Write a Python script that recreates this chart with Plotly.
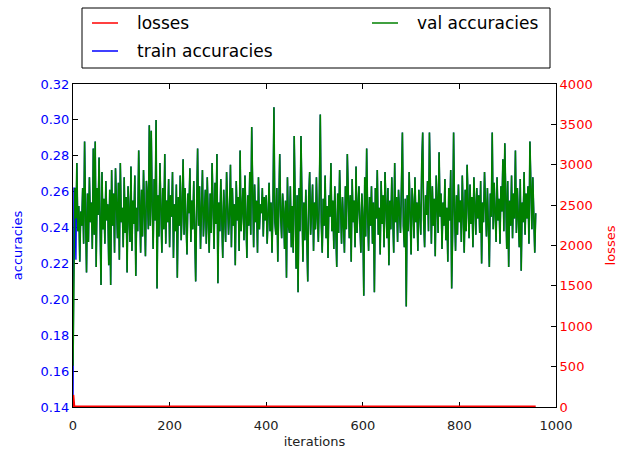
import plotly.graph_objects as go

# ---------------- data ----------------
iterations = list(range(0, 960, 2))

val_accuracies = [
    0.163, 0.212, 0.262, 0.245, 0.276, 0.238, 0.252, 0.221, 0.249, 0.241, 0.262, 0.231, 0.288, 0.246, 0.215, 0.259, 0.232, 0.268, 0.243, 0.254,
    0.228, 0.284, 0.236, 0.288, 0.218, 0.262, 0.247, 0.279, 0.226, 0.208, 0.271, 0.239, 0.256, 0.231, 0.266, 0.244, 0.253, 0.219, 0.261, 0.208,
    0.272, 0.241, 0.259, 0.226, 0.273, 0.248, 0.234, 0.265, 0.222, 0.276, 0.243, 0.251, 0.229, 0.268, 0.237, 0.257, 0.215, 0.263, 0.246, 0.232,
    0.274, 0.227, 0.255, 0.242, 0.269, 0.213, 0.251, 0.238, 0.283, 0.247, 0.226, 0.261, 0.235, 0.272, 0.249, 0.224, 0.266, 0.258, 0.239, 0.297,
    0.241, 0.294, 0.252, 0.228, 0.267, 0.244, 0.300, 0.206, 0.258, 0.235, 0.276, 0.248, 0.226, 0.262, 0.239, 0.281, 0.231, 0.255, 0.243, 0.267,
    0.229, 0.258, 0.246, 0.271, 0.223, 0.253, 0.238, 0.264, 0.212, 0.257, 0.241, 0.269, 0.233, 0.251, 0.278, 0.236, 0.262, 0.244, 0.225, 0.259,
    0.248, 0.273, 0.232, 0.255, 0.239, 0.266, 0.226, 0.210, 0.252, 0.284, 0.241, 0.263, 0.228, 0.256, 0.272, 0.235, 0.249, 0.261, 0.231, 0.268,
    0.244, 0.226, 0.259, 0.237, 0.276, 0.251, 0.228, 0.265, 0.242, 0.281, 0.209, 0.254, 0.238, 0.267, 0.246, 0.223, 0.261, 0.249, 0.232, 0.271,
    0.255, 0.236, 0.248, 0.275, 0.229, 0.262, 0.241, 0.253, 0.219, 0.266, 0.244, 0.257, 0.227, 0.283, 0.238, 0.251, 0.262, 0.233, 0.269, 0.246,
    0.223, 0.258, 0.241, 0.271, 0.236, 0.296, 0.252, 0.229, 0.264, 0.243, 0.255, 0.226, 0.268, 0.239, 0.253, 0.248, 0.262, 0.235, 0.257, 0.244,
    0.258, 0.231, 0.247, 0.265, 0.238, 0.254, 0.226, 0.251, 0.307, 0.243, 0.236, 0.262, 0.221, 0.257, 0.281, 0.246, 0.234, 0.259, 0.249, 0.228,
    0.255, 0.212, 0.268, 0.241, 0.237, 0.263, 0.229, 0.252, 0.226, 0.291, 0.244, 0.217, 0.258, 0.204, 0.262, 0.238, 0.291, 0.246, 0.221, 0.254,
    0.233, 0.261, 0.242, 0.210, 0.257, 0.271, 0.236, 0.249, 0.264, 0.227, 0.254, 0.239, 0.268, 0.245, 0.232, 0.259, 0.303, 0.243, 0.226, 0.256,
    0.241, 0.269, 0.234, 0.252, 0.223, 0.258, 0.246, 0.276, 0.238, 0.255, 0.228, 0.263, 0.244, 0.218, 0.259, 0.237, 0.272, 0.248, 0.231, 0.257,
    0.245, 0.226, 0.263, 0.239, 0.281, 0.252, 0.234, 0.258, 0.221, 0.267, 0.243, 0.255, 0.229, 0.274, 0.237, 0.251, 0.263, 0.242, 0.226, 0.259,
    0.246, 0.202, 0.268, 0.235, 0.284, 0.248, 0.227, 0.257, 0.241, 0.263, 0.231, 0.254, 0.204, 0.262, 0.245, 0.272, 0.236, 0.251, 0.225, 0.266,
    0.242, 0.258, 0.229, 0.271, 0.246, 0.234, 0.262, 0.219, 0.255, 0.239, 0.268, 0.247, 0.226, 0.276, 0.243, 0.257, 0.232, 0.261, 0.248, 0.237,
    0.263, 0.293, 0.241, 0.229, 0.256, 0.196, 0.258, 0.238, 0.271, 0.246, 0.225, 0.262, 0.252, 0.234, 0.268, 0.243, 0.254, 0.227, 0.261, 0.248,
    0.236, 0.275, 0.293, 0.244, 0.229, 0.258, 0.247, 0.266, 0.238, 0.293, 0.252, 0.231, 0.263, 0.241, 0.256, 0.224, 0.269, 0.245, 0.237, 0.282,
    0.246, 0.259, 0.228, 0.254, 0.241, 0.267, 0.233, 0.251, 0.221, 0.262, 0.244, 0.272, 0.206, 0.238, 0.293, 0.249, 0.227, 0.258, 0.236, 0.264,
    0.243, 0.255, 0.232, 0.269, 0.247, 0.226, 0.261, 0.238, 0.275, 0.251, 0.234, 0.264, 0.242, 0.257, 0.229, 0.268, 0.249, 0.236, 0.262, 0.245,
    0.258, 0.237, 0.266, 0.220, 0.254, 0.243, 0.271, 0.248, 0.235, 0.262, 0.241, 0.218, 0.259, 0.246, 0.293, 0.239, 0.265, 0.251, 0.232, 0.268,
    0.244, 0.256, 0.231, 0.263, 0.249, 0.278, 0.238, 0.287, 0.247, 0.228, 0.266, 0.218, 0.255, 0.241, 0.269, 0.234, 0.259, 0.245, 0.283, 0.237,
    0.262, 0.248, 0.229, 0.267, 0.216, 0.254, 0.243, 0.271, 0.236, 0.259, 0.245, 0.263, 0.231, 0.288, 0.252, 0.239, 0.268, 0.247, 0.226, 0.248,
]

# train accuracies lie underneath the val curve; only the first points differ visibly
train_start = [0.140, 0.262, 0.262, 0.222]
train_accuracies = train_start + val_accuracies[len(train_start):]

loss_iterations = [0, 2, 4, 6, 8, 10, 20, 40, 80, 160, 320, 480, 640, 800, 958]
losses = [150, 12, 4.1, 2.9, 2.6, 2.45, 2.35, 2.31, 2.30, 2.30, 2.30, 2.30, 2.30, 2.30, 2.30]

x_ticks = [0, 200, 400, 600, 800, 1000]
acc_ticks = [0.14, 0.16, 0.18, 0.20, 0.22, 0.24, 0.26, 0.28, 0.30, 0.32]
loss_ticks = [0, 500, 1000, 1500, 2000, 2500, 3000, 3500, 4000]

legend_labels = ["losses", "train accuracies", "val accuracies"]
legend_colors = ["red", "blue", "green"]

# ---------------- figure ----------------
FONT = "DejaVu Sans"
W, H = 618, 449
ML, MR, MT, MB = 73, 62, 84, 42
PW, PH = W - ML - MR, H - MT - MB


def px2paper_x(px):
    return (px - ML) / PW


def px2paper_y(py):
    return (H - MB - py) / PH


fig = go.Figure()
fig.add_trace(go.Scatter(x=iterations, y=train_accuracies, mode="lines",
                         line=dict(color="blue", width=1.4), name="train accuracies",
                         showlegend=False))
fig.add_trace(go.Scatter(x=iterations, y=val_accuracies, mode="lines",
                         line=dict(color="green", width=1.6), name="val accuracies",
                         showlegend=False))
fig.add_trace(go.Scatter(x=loss_iterations, y=losses, mode="lines", yaxis="y2",
                         line=dict(color="red", width=2.6), name="losses",
                         showlegend=False))

axis_common = dict(showgrid=False, zeroline=False, showline=True, linecolor="black",
                   linewidth=1, ticks="inside", ticklen=5, tickcolor="black",
                   layer="below traces", automargin=False)

fig.update_layout(
    width=W, height=H,
    margin=dict(l=ML, r=MR, t=MT, b=MB, pad=0, autoexpand=False),
    paper_bgcolor="white", plot_bgcolor="white",
    font=dict(family=FONT, size=13, color="#222222"),
    xaxis=dict(range=[0, 1000], tickvals=x_ticks, mirror="ticks",
               tickfont=dict(size=13, color="#222222"), ticklabelstandoff=6,
               title=dict(text="iterations", font=dict(size=13, color="#222222"), standoff=6),
               **axis_common),
    yaxis=dict(range=[0.14, 0.32], tickvals=acc_ticks, tickformat=".2f",
               tickfont=dict(size=13, color="blue"),
               title=dict(text="accuracies", font=dict(size=13, color="blue"), standoff=14),
               **axis_common),
    yaxis2=dict(range=[0, 4000], tickvals=loss_ticks, overlaying="y", side="right",
                tickfont=dict(size=13, color="red"),
                title=dict(text="losses", font=dict(size=13, color="red"), standoff=16),
                **axis_common),
)

# manual matplotlib-style legend (two columns, framed)
fig.add_shape(type="rect", xref="paper", yref="paper",
              x0=px2paper_x(82), x1=px2paper_x(550), y0=px2paper_y(68), y1=px2paper_y(8),
              line=dict(color="black", width=1), fillcolor="white")
legend_pos = [(92, 118, 135, 23), (92, 118, 135, 51), (372, 398, 415, 23)]
for (lx0, lx1, tx, ly), lab, col in zip(legend_pos, legend_labels, legend_colors):
    fig.add_shape(type="line", xref="paper", yref="paper",
                  x0=px2paper_x(lx0), x1=px2paper_x(lx1),
                  y0=px2paper_y(ly), y1=px2paper_y(ly),
                  line=dict(color=col, width=1.5))
    fig.add_annotation(xref="paper", yref="paper", x=px2paper_x(tx), y=px2paper_y(ly),
                       text=lab, showarrow=False, xanchor="left", yanchor="middle",
                       font=dict(family=FONT, size=17, color="black"))

fig.write_html("out.html")
